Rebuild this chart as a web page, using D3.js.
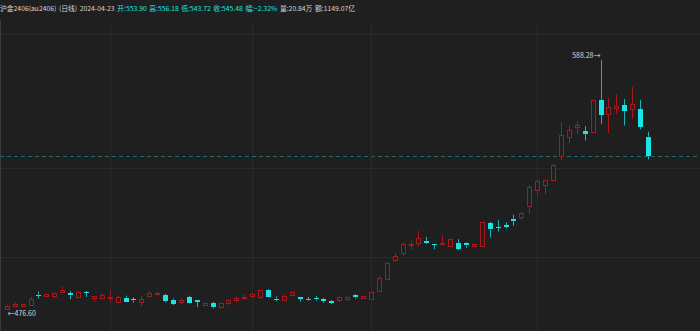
<!DOCTYPE html>
<html lang="zh-CN">

<head>
    <meta charset="UTF-8">
    <title>沪金2406 日线</title>
    <script src="https://cdn.jsdelivr.net/npm/d3@7"></script>
    <style>
        body { margin: 0; background: #1f1f1f; }
        svg { display: block; }
        text { font-family: 'Microsoft YaHei', 'Noto Sans CJK SC', sans-serif; }
    </style>
</head>

<body>
    <svg></svg>
</body>
<script>
    const width = 700;
    const height = 331;

    // daily OHLC, 2023-12 .. 2024-04-23
    const opens = [477.0, 477.9, 478.0, 478.4, 483.2, 482.6, 482.6, 484.5, 483.8, 482.2,
        484.3, 481.7, 481.8, 482.0, 479.8, 481.8, 481.2, 480.0, 482.7, 483.4,
        482.8, 480.9, 479.6, 482.0, 480.6, 478.5, 479.2, 477.6, 479.1, 480.4,
        482.0, 482.4, 481.9, 485.1, 481.4, 481.1, 482.9, 482.0, 481.4, 481.6,
        481.1, 480.1, 480.5, 481.2, 483.0, 481.3, 481.3, 484.8, 490.0, 498.4,
        501.5, 505.5, 506.3, 507.3, 505.8, 505.8, 504.6, 506.3, 506.2, 504.8,
        504.8, 515.3, 513.4, 514.4, 517.1, 517.8, 522.8, 529.7, 532.6, 534.6,
        545.4, 553.7, 558.0, 556.4, 555.9, 570.4, 563.8, 566.9, 568.1, 566.3,
        566.3, 553.90];
    const highs = [478.7, 479.6, 479.1, 482.2, 484.6, 483.5, 484.2, 486.7, 484.8, 484.7,
        484.8, 482.6, 483.8, 485.0, 482.8, 482.7, 482.0, 482.5, 484.8, 484.4,
        483.5, 481.5, 481.5, 482.7, 480.7, 479.5, 479.9, 479.5, 481.0, 482.3,
        483.2, 484.0, 485.2, 485.6, 482.4, 483.4, 484.6, 482.1, 482.1, 482.6,
        481.7, 480.8, 482.4, 482.3, 483.3, 482.6, 484.6, 491.4, 497.9, 501.8,
        506.6, 507.3, 511.7, 509.0, 505.9, 509.9, 508.0, 508.0, 506.6, 506.0,
        515.8, 515.7, 516.6, 515.6, 519.0, 520.3, 532.3, 534.8, 534.8, 541.8,
        560.4, 558.9, 560.9, 558.7, 570.5, 588.28, 571.4, 572.9, 570.8, 576.2,
        570.4, 556.18];
    const lows = [476.6, 477.5, 477.8, 478.1, 481.4, 482.5, 481.5, 484.3, 481.1, 482.1,
        482.2, 479.9, 481.3, 479.8, 479.7, 479.9, 479.6, 477.9, 482.6, 482.9,
        479.6, 478.5, 478.7, 478.9, 477.6, 478.3, 476.9, 477.0, 478.6, 479.7,
        480.9, 481.9, 481.4, 481.6, 480.2, 480.9, 482.7, 480.0, 480.6, 480.4,
        479.4, 478.9, 479.8, 480.4, 481.5, 481.2, 481.1, 484.3, 489.9, 497.9,
        500.6, 503.2, 504.6, 505.8, 503.5, 505.7, 504.5, 503.1, 504.2, 504.5,
        504.6, 508.7, 511.4, 512.9, 514.0, 516.5, 519.4, 527.8, 528.0, 533.8,
        543.2, 551.0, 555.0, 552.2, 555.5, 559.5, 555.5, 564.2, 558.9, 561.9,
        557.2, 543.72];
    const closes = [478.2, 479.0, 479.0, 481.3, 482.8, 483.3, 484.1, 485.4, 482.7, 484.5,
        484.0, 482.4, 483.1, 482.3, 481.9, 480.2, 480.6, 481.2, 484.0, 483.7,
        480.2, 479.1, 480.6, 479.1, 479.9, 479.3, 477.4, 479.3, 480.6, 481.5,
        482.3, 483.5, 485.1, 481.8, 481.1, 482.7, 484.4, 481.3, 481.4, 481.1,
        480.3, 479.3, 481.9, 481.9, 482.0, 482.4, 484.3, 490.7, 497.2, 500.4,
        505.7, 506.0, 508.4, 506.4, 505.6, 506.2, 507.9, 503.6, 505.1, 505.7,
        515.6, 512.4, 513.2, 513.7, 516.3, 519.8, 531.3, 533.9, 534.7, 541.3,
        554.7, 556.8, 559.0, 555.2, 570.4, 563.7, 567.1, 567.8, 565.6, 568.5,
        558.45, 545.48];

    // header info
    const title = ['沪金2406(au2406)', '(日线)', '2024-04-23'];
    const volume = '20.84万';
    const amount = '1149.07亿';

    // faint grid: price levels and candle indices (month starts)
    const gridPrices = [500, 540, 600];
    const gridIdx = [13, 31, 46, 67];

    const upColor = '#a8181d';
    const downColor = '#18e6e6';
    const flatColor = '#9a9a9a';
    const textColor = '#d6d6d6';

    const data = opens.map((o, i) => ({ i, o, h: highs[i], l: lows[i], c: closes[i] }));
    const last = data[data.length - 1];
    const prev = data[data.length - 2];

    const svg = d3.select('svg')
        .attr('width', width)
        .attr('height', height);

    svg.append('rect')
        .attr('width', width)
        .attr('height', height)
        .attr('fill', '#1f1f1f');

    const x = d3.scaleBand()
        .domain(data.map(d => d.i))
        .range([1.4, 653.4])
        .padding(0.36);

    const y = d3.scaleLinear()
        .domain([d3.min(lows), d3.max(highs)])
        .range([309.3, 60]);

    const cx = i => Math.round(x(i) + x.bandwidth() / 2) + 0.5;

    // grid
    svg.append('g')
        .selectAll('line')
        .data(gridPrices)
        .join('line')
        .attr('x1', 0)
        .attr('x2', width)
        .attr('y1', d => Math.round(y(d)) + 0.5)
        .attr('y2', d => Math.round(y(d)) + 0.5)
        .attr('stroke', '#2a2a2a');

    svg.append('g')
        .selectAll('line')
        .data(gridIdx)
        .join('line')
        .attr('x1', d => cx(d))
        .attr('x2', d => cx(d))
        .attr('y1', 24)
        .attr('y2', height)
        .attr('stroke', '#2a2a2a');

    svg.append('line')
        .attr('x1', 0.5).attr('x2', 0.5)
        .attr('y1', 20).attr('y2', height)
        .attr('stroke', '#3a3a3a');

    // last price line
    svg.append('line')
        .attr('x1', 0)
        .attr('x2', width)
        .attr('y1', Math.round(y(last.c)) + 0.5)
        .attr('y2', Math.round(y(last.c)) + 0.5)
        .attr('stroke', '#1b6b6b')
        .attr('stroke-dasharray', '4,3');

    const colorOf = d => d.c > d.o ? upColor : d.c < d.o ? downColor : flatColor;

    const candles = svg.append('g')
        .selectAll('g')
        .data(data)
        .join('g');

    // wicks (up candles are hollow, so draw the wick above and below the body)
    candles.append('line')
        .attr('x1', d => cx(d.i))
        .attr('x2', d => cx(d.i))
        .attr('y1', d => y(d.h))
        .attr('y2', d => y(Math.max(d.o, d.c)))
        .attr('stroke', colorOf)
        .attr('stroke-opacity', d => d.c < d.o ? 0.75 : 1);
    candles.append('line')
        .attr('x1', d => cx(d.i))
        .attr('x2', d => cx(d.i))
        .attr('y1', d => y(Math.min(d.o, d.c)))
        .attr('y2', d => y(d.l))
        .attr('stroke', colorOf)
        .attr('stroke-opacity', d => d.c < d.o ? 0.75 : 1);

    // bodies
    candles.filter(d => d.c > d.o)
        .append('rect')
        .attr('x', d => cx(d.i) - 2)
        .attr('width', 4)
        .attr('y', d => Math.round(y(d.c)) + 0.5)
        .attr('height', d => Math.max(1, Math.round(y(d.o) - y(d.c))))
        .attr('fill', '#1f1f1f')
        .attr('stroke', upColor);

    candles.filter(d => d.c <= d.o)
        .append('rect')
        .attr('x', d => cx(d.i) - 2.5)
        .attr('width', 5)
        .attr('y', d => Math.round(y(d.o)))
        .attr('height', d => Math.max(1, Math.round(y(d.c) - y(d.o))))
        .attr('fill', colorOf);

    // extreme labels
    const f2 = d3.format('.2f');
    const hi = data[d3.maxIndex(highs)];
    const lo = data[d3.minIndex(lows)];
    svg.append('text')
        .attr('x', cx(hi.i) - 1)
        .attr('y', y(hi.h) - 4)
        .attr('dy', '0.35em')
        .attr('text-anchor', 'end')
        .attr('font-size', 7)
        .attr('fill', textColor)
        .text(`${f2(hi.h)}→`);
    svg.append('text')
        .attr('x', cx(lo.i))
        .attr('y', y(lo.l) + 4)
        .attr('dy', '0.35em')
        .attr('font-size', 7)
        .attr('fill', textColor)
        .text(`←${f2(lo.l)}`);

    // header
    const pct = (last.c - prev.c) / prev.c * 100;
    const lastColor = last.c >= prev.c ? upColor : downColor;
    const header = [
        ...title.map(t => ({ t, color: textColor })),
        { t: `开:${f2(last.o)}`, color: lastColor },
        { t: `高:${f2(last.h)}`, color: lastColor },
        { t: `低:${f2(last.l)}`, color: lastColor },
        { t: `收:${f2(last.c)}`, color: lastColor },
        { t: `幅:${f2(pct)}%`, color: lastColor },
        { t: `量:${volume}`, color: textColor },
        { t: `额:${amount}`, color: textColor }
    ];
    svg.append('text')
        .attr('x', 0)
        .attr('y', 10.5)
        .attr('font-size', 6.8)
        .selectAll('tspan')
        .data(header)
        .join('tspan')
        .attr('dx', (d, i) => i ? 2.6 : 0)
        .attr('fill', d => d.color)
        .text(d => d.t);
</script>

</html>
